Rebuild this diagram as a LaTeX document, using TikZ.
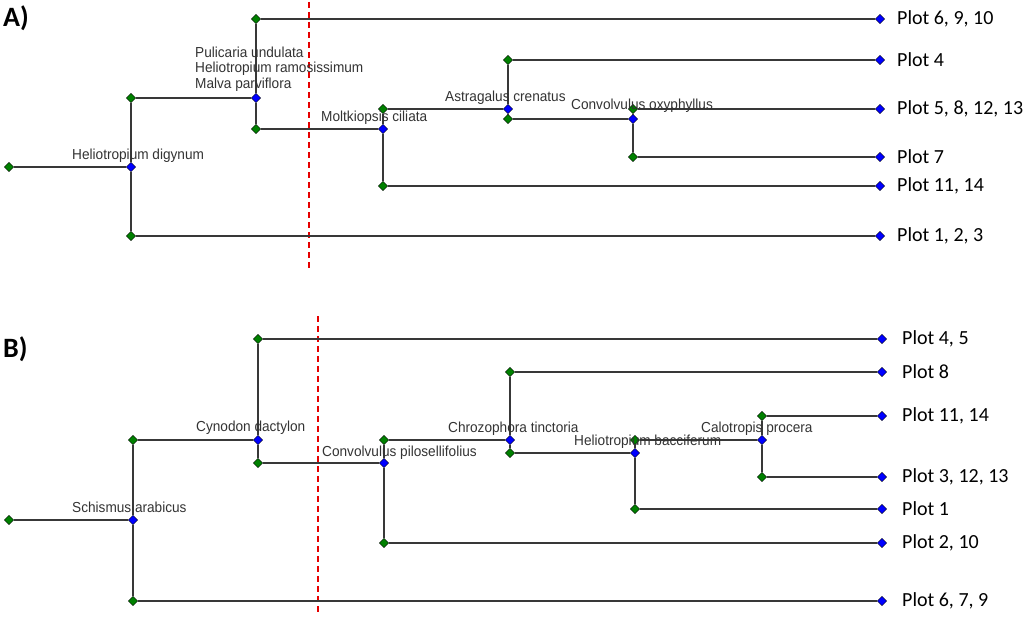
\documentclass[tikz,border=0pt]{standalone}
\usepackage{fontspec}
\setmainfont{Liberation Sans}
\newfontfamily\plotfont{Carlito}
\newfontfamily\taxonfont[FakeStretch=0.94]{Liberation Sans}
\usetikzlibrary{shapes.geometric,positioning}

\tikzset{
  joint/.style={diamond, draw=black, thin, fill=green!50!black, inner sep=0pt, minimum size=9.5pt},
  split/.style={joint, fill=blue},
  taxon/.style={anchor=base west, inner sep=0pt, align=left,
    font=\taxonfont\fontsize{14.5}{15.5}\selectfont, text=black!80},
  plot/.style={anchor=west, inner sep=0pt, font=\plotfont\fontsize{20}{22}\selectfont},
  panel/.style={anchor=base west, inner sep=0pt, font=\plotfont\bfseries\fontsize{28}{30}\selectfont},
  branch/.style={line width=2pt, draw=black!78},
  cut/.style={red!90!black, line width=1.5pt, dash pattern=on 6pt off 4pt}
}

\begin{document}
\begin{tikzpicture}[x=1pt, y=-1pt]
\useasboundingbox (0,0) rectangle (1024,618);

% panel A
\node[panel] (aTitle) at (3,27) {A)};
\coordinate (aCutT) at (309,2);
\coordinate (aCutB) at (309,268);
\draw[cut] (aCutT) -- (aCutB);

\node[joint] (aRoot) at (9,167) {};
\node[split] (aHd)   at (131,167) {};
\node[joint] (aHdU)  at (131,98) {};
\node[joint] (aHdL)  at (131,236) {};
\node[split] (aPu)   at (256,98) {};
\node[joint] (aPuU)  at (256,19) {};
\node[joint] (aPuL)  at (256,129) {};
\node[split] (aMc)   at (383,129) {};
\node[joint] (aMcU)  at (383,109) {};
\node[joint] (aMcL)  at (383,186) {};
\node[split] (aAc)   at (508,109) {};
\node[joint] (aAcU)  at (508,60) {};
\node[joint] (aAcL)  at (508,119) {};
\node[split] (aCo)   at (633,119) {};
\node[joint] (aCoU)  at (633,109) {};
\node[joint] (aCoL)  at (633,157) {};

\node[split] (aL1) at (880,19) {};
\node[split] (aL2) at (880,60) {};
\node[split] (aL3) at (880,109) {};
\node[split] (aL4) at (880,157) {};
\node[split] (aL5) at (880,186) {};
\node[split] (aL6) at (880,236) {};

\begin{scope}[branch]
  \draw (aRoot) -- (aHd);
  \draw (aHdU) -- (aHd) -- (aHdL);
  \draw (aHdU) -- (aPu);
  \draw (aPuU) -- (aPu) -- (aPuL);
  \draw (aPuU) -- (aL1);
  \draw (aPuL) -- (aMc);
  \draw (aMcU) -- (aMc) -- (aMcL);
  \draw (aMcU) -- (aAc);
  \draw (aAcU) -- (aAc) -- (aAcL);
  \draw (aAcU) -- (aL2);
  \draw (aAcL) -- (aCo);
  \draw (aCoU) -- (aCo) -- (aCoL);
  \draw (aCoU) -- (aL3);
  \draw (aCoL) -- (aL4);
  \draw (aMcL) -- (aL5);
  \draw (aHdL) -- (aL6);
\end{scope}

\node[taxon] (aHdT) at (72,159) {Heliotropium digynum};
\node[taxon] (aPuT) at (195,88) {Pulicaria undulata\\Heliotropium ramosissimum\\Malva parviflora};
\node[taxon] (aMcT) at (321,121) {Moltkiopsis ciliata};
\node[taxon] (aAcT) at (445,101) {Astragalus crenatus};
\node[taxon] (aCoT) at (571,109) {Convolvulus oxyphyllus};

\node[plot, right=12pt of aL1] (aP1) {Plot 6, 9, 10};
\node[plot, right=12pt of aL2] (aP2) {Plot 4};
\node[plot, right=12pt of aL3] (aP3) {Plot 5, 8, 12, 13};
\node[plot, right=12pt of aL4] (aP4) {Plot 7};
\node[plot, right=12pt of aL5] (aP5) {Plot 11, 14};
\node[plot, right=12pt of aL6] (aP6) {Plot 1, 2, 3};

% panel B
\node[panel] (bTitle) at (3,357) {B)};
\coordinate (bCutT) at (318,316);
\coordinate (bCutB) at (318,612);
\draw[cut] (bCutT) -- (bCutB);

\node[joint] (bRoot) at (9,520) {};
\node[split] (bSa)   at (133,520) {};
\node[joint] (bSaU)  at (133,440) {};
\node[joint] (bSaL)  at (133,601) {};
\node[split] (bCd)   at (258,440) {};
\node[joint] (bCdU)  at (258,339) {};
\node[joint] (bCdL)  at (258,463) {};
\node[split] (bCp)   at (384,463) {};
\node[joint] (bCpU)  at (384,440) {};
\node[joint] (bCpL)  at (384,543) {};
\node[split] (bCt)   at (510,440) {};
\node[joint] (bCtU)  at (510,372) {};
\node[joint] (bCtL)  at (510,453) {};
\node[split] (bHb)   at (635,453) {};
\node[joint] (bHbU)  at (635,440) {};
\node[joint] (bHbL)  at (635,509) {};
\node[split] (bCa)   at (762,440) {};
\node[joint] (bCaU)  at (762,416) {};
\node[joint] (bCaL)  at (762,477) {};

\node[split] (bL1) at (882,339) {};
\node[split] (bL2) at (882,372) {};
\node[split] (bL3) at (882,416) {};
\node[split] (bL4) at (882,477) {};
\node[split] (bL5) at (882,509) {};
\node[split] (bL6) at (882,543) {};
\node[split] (bL7) at (882,601) {};

\begin{scope}[branch]
  \draw (bRoot) -- (bSa);
  \draw (bSaU) -- (bSa) -- (bSaL);
  \draw (bSaU) -- (bCd);
  \draw (bCdU) -- (bCd) -- (bCdL);
  \draw (bCdU) -- (bL1);
  \draw (bCdL) -- (bCp);
  \draw (bCpU) -- (bCp) -- (bCpL);
  \draw (bCpU) -- (bCt);
  \draw (bCtU) -- (bCt) -- (bCtL);
  \draw (bCtU) -- (bL2);
  \draw (bCtL) -- (bHb);
  \draw (bHbU) -- (bHb) -- (bHbL);
  \draw (bHbU) -- (bCa);
  \draw (bCaU) -- (bCa) -- (bCaL);
  \draw (bCaU) -- (bL3);
  \draw (bCaL) -- (bL4);
  \draw (bHbL) -- (bL5);
  \draw (bCpL) -- (bL6);
  \draw (bSaL) -- (bL7);
\end{scope}

\node[taxon] (bSaT) at (72,512) {Schismus arabicus};
\node[taxon] (bCdT) at (196,431) {Cynodon dactylon};
\node[taxon] (bCpT) at (322,456) {Convolvulus pilosellifolius};
\node[taxon] (bCtT) at (448,432) {Chrozophora tinctoria};
\node[taxon] (bHbT) at (574,445) {Heliotropium bacciferum};
\node[taxon] (bCaT) at (701,432) {Calotropis procera};

\node[plot, right=15pt of bL1] (bP1) {Plot 4, 5};
\node[plot, right=15pt of bL2] (bP2) {Plot 8};
\node[plot, right=15pt of bL3] (bP3) {Plot 11, 14};
\node[plot, right=15pt of bL4] (bP4) {Plot 3, 12, 13};
\node[plot, right=15pt of bL5] (bP5) {Plot 1};
\node[plot, right=15pt of bL6] (bP6) {Plot 2, 10};
\node[plot, right=15pt of bL7] (bP7) {Plot 6, 7, 9};

\end{tikzpicture}
\end{document}
